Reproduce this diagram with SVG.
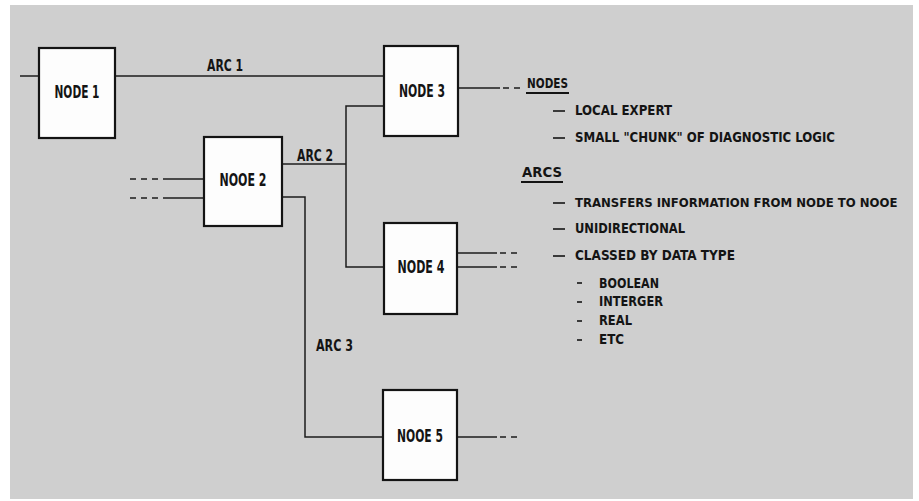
<svg xmlns="http://www.w3.org/2000/svg" width="919" height="501" viewBox="0 0 919 501">
<style>
.node rect{fill:#fdfdfd;stroke:#141414;stroke-width:2.2}
.lbl{font-family:"Liberation Sans Narrow","DejaVu Sans Condensed","Liberation Sans",sans-serif;font-weight:bold;fill:#141414}
.nl{font-size:17px;text-anchor:middle}
.al{font-size:16px}
.lg{font-size:14px}
.lgs{font-size:13px}
.conn line,.conn polyline{stroke:#1c1c1c;stroke-width:1.5;fill:none}
.dash{stroke-dasharray:6 5}
.ul{stroke:#141414;stroke-width:2}
.dl{stroke:#141414;stroke-width:1.6}
</style>
<rect x="0" y="0" width="919" height="501" fill="#ffffff"/>
<rect x="10" y="5" width="903" height="494" fill="#cfcfcf"/>

<g id="connectors" class="conn">
  <line x1="20" y1="76" x2="39" y2="76"/>
  <line x1="115" y1="76" x2="384" y2="76"/>
  <polyline points="384,106 346,106 346,267 384,267"/>
  <line x1="282" y1="164" x2="346" y2="164"/>
  <polyline points="282,197 305,197 305,437 383,437"/>
  <line x1="163" y1="179" x2="204" y2="179"/>
  <line x1="130" y1="179" x2="160" y2="179" class="dash"/>
  <line x1="163" y1="198" x2="204" y2="198"/>
  <line x1="130" y1="198" x2="160" y2="198" class="dash"/>
  <line x1="458" y1="88" x2="500" y2="88"/>
  <line x1="503" y1="88" x2="520" y2="88" class="dash"/>
  <line x1="457" y1="253" x2="497" y2="253"/>
  <line x1="500" y1="253" x2="520" y2="253" class="dash"/>
  <line x1="457" y1="267" x2="497" y2="267"/>
  <line x1="500" y1="267" x2="520" y2="267" class="dash"/>
  <line x1="457" y1="437" x2="497" y2="437"/>
  <line x1="500" y1="437" x2="518" y2="437" class="dash"/>
  <text class="lbl al" x="207" y="71" textLength="36" lengthAdjust="spacingAndGlyphs">ARC 1</text>
  <text class="lbl al" x="297" y="161" textLength="36" lengthAdjust="spacingAndGlyphs">ARC 2</text>
  <text class="lbl al" x="316" y="351" textLength="37" lengthAdjust="spacingAndGlyphs">ARC 3</text>
</g>

<g id="node1" class="node">
  <rect x="39" y="48" width="76" height="90"/>
  <text class="lbl nl" x="77" y="98" textLength="45" lengthAdjust="spacingAndGlyphs">NODE 1</text>
</g>
<g id="node2" class="node">
  <rect x="204" y="137" width="78" height="89"/>
  <text class="lbl nl" x="243" y="186" textLength="47" lengthAdjust="spacingAndGlyphs">NOOE 2</text>
</g>
<g id="node3" class="node">
  <rect x="384" y="46" width="74" height="90"/>
  <text class="lbl nl" x="422" y="97" textLength="46" lengthAdjust="spacingAndGlyphs">NODE 3</text>
</g>
<g id="node4" class="node">
  <rect x="384" y="223" width="73" height="91"/>
  <text class="lbl nl" x="421" y="273" textLength="47" lengthAdjust="spacingAndGlyphs">NODE 4</text>
</g>
<g id="node5" class="node">
  <rect x="383" y="390" width="74" height="90"/>
  <text class="lbl nl" x="420" y="442" textLength="46" lengthAdjust="spacingAndGlyphs">NOOE 5</text>
</g>

<g id="legend">
  <text class="lbl lg" x="527" y="88" textLength="41" lengthAdjust="spacingAndGlyphs">NODES</text>
  <line class="ul" x1="526" y1="93" x2="569" y2="93"/>
  <line class="dl" x1="553" y1="111" x2="565" y2="111"/>
  <text class="lbl lg" x="575" y="115" textLength="97" lengthAdjust="spacingAndGlyphs">LOCAL EXPERT</text>
  <line class="dl" x1="553" y1="138" x2="565" y2="138"/>
  <text class="lbl lg" x="575" y="142" textLength="260" lengthAdjust="spacingAndGlyphs">SMALL "CHUNK" OF DIAGNOSTIC LOGIC</text>
  <text class="lbl lg" x="522" y="177" textLength="40" lengthAdjust="spacingAndGlyphs">ARCS</text>
  <line class="ul" x1="521" y1="182" x2="563" y2="182"/>
  <line class="dl" x1="553" y1="203" x2="565" y2="203"/>
  <text class="lbl lgs" x="575" y="207">TRANSFERS INFORMATION FROM NODE TO NOOE</text>
  <line class="dl" x1="553" y1="229" x2="565" y2="229"/>
  <text class="lbl lg" x="575" y="233" textLength="110" lengthAdjust="spacingAndGlyphs">UNIDIRECTIONAL</text>
  <line class="dl" x1="553" y1="256" x2="565" y2="256"/>
  <text class="lbl lg" x="575" y="260" textLength="160" lengthAdjust="spacingAndGlyphs">CLASSED BY DATA TYPE</text>
  <line class="dl" x1="577" y1="283" x2="582" y2="283"/>
  <text class="lbl lg" x="599" y="288" textLength="60" lengthAdjust="spacingAndGlyphs">BOOLEAN</text>
  <line class="dl" x1="577" y1="302" x2="582" y2="302"/>
  <text class="lbl lg" x="599" y="306" textLength="64" lengthAdjust="spacingAndGlyphs">INTERGER</text>
  <line class="dl" x1="577" y1="321" x2="582" y2="321"/>
  <text class="lbl lg" x="599" y="325" textLength="33" lengthAdjust="spacingAndGlyphs">REAL</text>
  <line class="dl" x1="577" y1="340" x2="582" y2="340"/>
  <text class="lbl lg" x="599" y="344" textLength="25" lengthAdjust="spacingAndGlyphs">ETC</text>
</g>
</svg>
